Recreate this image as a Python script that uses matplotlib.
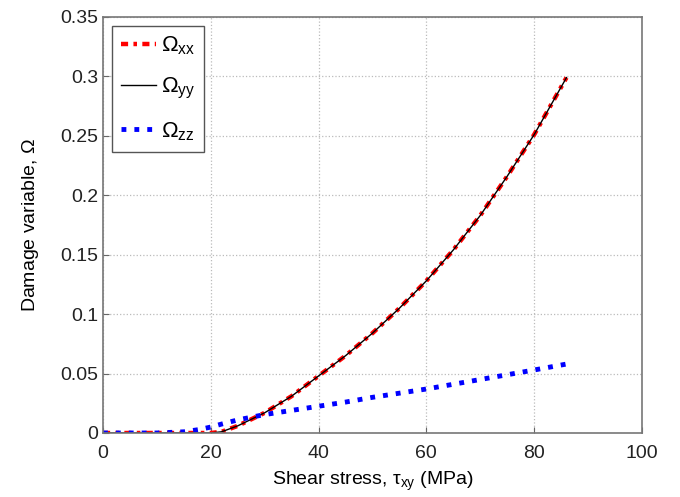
import matplotlib
matplotlib.use("Agg")
import matplotlib.pyplot as plt

plt.rcParams['font.family'] = ['Liberation Sans', 'DejaVu Sans']
plt.rcParams['mathtext.fontset'] = 'custom'
plt.rcParams['mathtext.rm'] = 'Liberation Sans'
plt.rcParams['mathtext.it'] = 'Liberation Sans'

# shear stress (MPa)
stress = [0, 5, 10, 15, 18, 20, 22, 25, 30, 35, 40, 45, 50, 55, 60, 65, 70, 75, 80, 86]
# damage components
omega_xx = [0, 0, 0, 0, 0, 0, 0.001, 0.006, 0.017, 0.031, 0.048, 0.065, 0.084,
            0.105, 0.128, 0.154, 0.183, 0.216, 0.251, 0.299]
omega_yy = omega_xx
omega_zz = [0, 0, 0, 0.001, 0.003, 0.005, 0.0075, 0.011, 0.0155, 0.019, 0.0225, 0.026,
            0.030, 0.0335, 0.037, 0.041, 0.045, 0.049, 0.053, 0.058]

fig = plt.figure(figsize=(6.8, 4.97), dpi=100)
ax = fig.add_axes([0.1515, 0.1288, 0.7925, 0.837])

ax.plot(stress, omega_xx, color='red', linestyle=(0, (1.6, 1.2, 0.8, 1.2)), linewidth=3.2,
        label=r'$\mathrm{\Omega_{xx}}$')
ax.plot(stress, omega_yy, color='black', linestyle='-', linewidth=1.0, label=r'$\mathrm{\Omega_{yy}}$')
ax.plot(stress, omega_zz, color='blue', linestyle=':', linewidth=3.5, label=r'$\mathrm{\Omega_{zz}}$')

ax.set_xlim(0, 100)
ax.set_ylim(0, 0.35)
ax.set_xticks([0, 20, 40, 60, 80, 100])
ax.set_yticks([0, 0.05, 0.1, 0.15, 0.2, 0.25, 0.3, 0.35])
ax.set_yticklabels(['0', '0.05', '0.1', '0.15', '0.2', '0.25', '0.3', '0.35'])
ax.tick_params(direction='in', length=4, labelsize=14, colors='#222222')
ax.tick_params(axis='both', color='#666666')
ax.tick_params(axis='x', pad=9)
for s in ax.spines.values():
    s.set_color('#777777')
    s.set_linewidth(1.2)
ax.grid(True, linestyle=':', color='#bbbbbb', linewidth=0.9)

ax.set_xlabel(r'Shear stress, $\mathrm{\tau_{xy}}$ (MPa)', fontsize=14, labelpad=5)
ax.set_ylabel(r'Damage variable, $\mathrm{\Omega}$', fontsize=14, labelpad=14)

leg = ax.legend(loc='upper left', fontsize=16, fancybox=False, framealpha=1,
                edgecolor='#555555', handlelength=1.6, handletextpad=0.2,
                borderaxespad=0.4, labelspacing=0.85, borderpad=0.4)
leg.get_frame().set_linewidth(1.0)

fig.savefig('out.png', dpi=100)
